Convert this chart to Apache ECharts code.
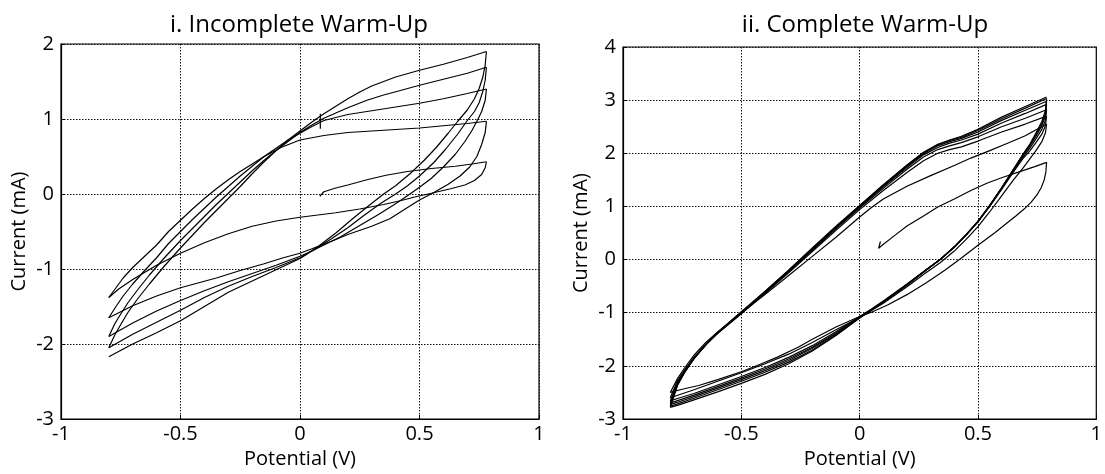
<!DOCTYPE html>
<html><head><meta charset="utf-8">
<script src="https://cdn.jsdelivr.net/npm/echarts/dist/echarts.min.js"></script>
<style>html,body{margin:0;padding:0;background:#fff}#c{width:1105px;height:474px}</style>
</head><body><div id="c"></div>
<script>
// ---------- tick values ----------
const xTickMin = -1, xTickMax = 1, xTickStep = 0.5;
const leftYMin = -3, leftYMax = 2;
const rightYMin = -3, rightYMax = 4;
const titles = ['i. Incomplete Warm-Up', 'ii. Complete Warm-Up'];
const xName = 'Potential (V)';
const yName = 'Current (mA)';

// ---------- left panel: incomplete warm-up (potential V, current mA) ----------
const leftInit = [[0.083,-0.03],[0.1,0.03],[0.15,0.08],[0.2,0.12],[0.28,0.19],[0.36,0.25],[0.45,0.3],[0.55,0.34],[0.65,0.37],[0.72,0.4],[0.78,0.43]];
const leftMark = [[0.085,1.07],[0.085,0.87]];
const leftCa1 = [[0.78,0.43],[0.775,0.35],[0.76,0.26],[0.73,0.18],[0.69,0.12],[0.63,0.07],[0.55,0.01],[0.48,-0.04],[0.42,-0.09],[0.35,-0.14],[0.25,-0.2],[0.15,-0.25],[0.05,-0.29],[0,-0.31],[-0.1,-0.36],[-0.2,-0.43],[-0.3,-0.53],[-0.4,-0.65],[-0.5,-0.79],[-0.6,-0.95],[-0.7,-1.14],[-0.76,-1.27],[-0.8,-1.38]];
const leftAn2 = [[-0.8,-1.38],[-0.77,-1.25],[-0.74,-1.12],[-0.7,-0.98],[-0.65,-0.83],[-0.6,-0.68],[-0.55,-0.5],[-0.5,-0.35],[-0.45,-0.2],[-0.4,-0.06],[-0.35,0.07],[-0.3,0.19],[-0.25,0.3],[-0.2,0.4],[-0.15,0.5],[-0.08,0.62],[0,0.72],[0.1,0.78],[0.2,0.82],[0.3,0.84],[0.4,0.86],[0.5,0.88],[0.6,0.91],[0.7,0.94],[0.78,0.97]];
const leftCa2 = [[0.78,0.97],[0.775,0.82],[0.76,0.66],[0.74,0.5],[0.71,0.36],[0.67,0.24],[0.62,0.13],[0.56,0.02],[0.5,-0.08],[0.44,-0.2],[0.376,-0.33],[0.3,-0.43],[0.2,-0.54],[0.14,-0.62],[0.05,-0.73],[0,-0.79],[-0.07,-0.85],[-0.15,-0.93],[-0.25,-1.02],[-0.35,-1.12],[-0.5,-1.25],[-0.6,-1.36],[-0.7,-1.49],[-0.8,-1.65]];
const leftAn3 = [[-0.8,-1.65],[-0.77,-1.5],[-0.74,-1.36],[-0.7,-1.2],[-0.65,-1.02],[-0.6,-0.85],[-0.55,-0.66],[-0.5,-0.5],[-0.45,-0.34],[-0.4,-0.19],[-0.35,-0.04],[-0.3,0.1],[-0.25,0.24],[-0.2,0.37],[-0.15,0.5],[-0.1,0.61],[-0.05,0.72],[0,0.81],[0.05,0.9],[0.1,0.98],[0.2,1.06],[0.3,1.11],[0.4,1.16],[0.5,1.21],[0.6,1.27],[0.7,1.34],[0.78,1.40]];
const leftCa3 = [[0.78,1.40],[0.775,1.25],[0.76,1.1],[0.745,1.0],[0.72,0.85],[0.69,0.7],[0.65,0.53],[0.6,0.36],[0.55,0.21],[0.5,0.09],[0.46,0.0],[0.4,-0.13],[0.33,-0.27],[0.25,-0.42],[0.17,-0.57],[0.1,-0.68],[0.05,-0.76],[0,-0.83],[-0.1,-0.95],[-0.2,-1.06],[-0.3,-1.17],[-0.4,-1.29],[-0.5,-1.42],[-0.6,-1.56],[-0.7,-1.72],[-0.8,-1.90]];
const leftAn4 = [[-0.8,-1.9],[-0.775,-1.73],[-0.75,-1.6],[-0.72,-1.45],[-0.68,-1.28],[-0.63,-1.08],[-0.57,-0.86],[-0.5,-0.62],[-0.45,-0.46],[-0.4,-0.3],[-0.35,-0.14],[-0.3,0.01],[-0.25,0.16],[-0.2,0.31],[-0.15,0.45],[-0.1,0.58],[-0.05,0.7],[0,0.82],[0.05,0.92],[0.1,1.01],[0.15,1.08],[0.2,1.15],[0.28,1.25],[0.35,1.32],[0.42,1.38],[0.5,1.45],[0.6,1.53],[0.7,1.61],[0.78,1.69]];
const leftCa4 = [[0.78,1.69],[0.775,1.52],[0.765,1.37],[0.75,1.22],[0.73,1.1],[0.7,0.98],[0.66,0.8],[0.61,0.6],[0.56,0.42],[0.5,0.24],[0.45,0.11],[0.4,0.0],[0.34,-0.12],[0.27,-0.28],[0.2,-0.45],[0.13,-0.6],[0.06,-0.74],[0,-0.85],[-0.1,-0.98],[-0.2,-1.1],[-0.3,-1.23],[-0.4,-1.38],[-0.5,-1.55],[-0.6,-1.71],[-0.7,-1.87],[-0.8,-2.05]];
const leftAn5 = [[-0.8,-2.05],[-0.775,-1.88],[-0.75,-1.74],[-0.72,-1.58],[-0.68,-1.4],[-0.63,-1.2],[-0.57,-0.97],[-0.5,-0.72],[-0.45,-0.55],[-0.4,-0.38],[-0.35,-0.22],[-0.3,-0.06],[-0.25,0.1],[-0.2,0.27],[-0.15,0.43],[-0.1,0.58],[-0.05,0.72],[0,0.84],[0.05,0.96],[0.1,1.07],[0.15,1.17],[0.2,1.27],[0.25,1.36],[0.3,1.44],[0.35,1.5],[0.4,1.56],[0.5,1.65],[0.6,1.73],[0.7,1.82],[0.78,1.90]];
const leftCa5 = [[0.78,1.90],[0.775,1.72],[0.765,1.56],[0.75,1.41],[0.73,1.27],[0.7,1.12],[0.66,0.97],[0.62,0.81],[0.57,0.62],[0.52,0.45],[0.46,0.27],[0.4,0.11],[0.35,0.0],[0.29,-0.15],[0.22,-0.33],[0.15,-0.52],[0.08,-0.69],[0.03,-0.8],[0,-0.86],[-0.1,-1.01],[-0.2,-1.16],[-0.3,-1.31],[-0.4,-1.5],[-0.5,-1.69],[-0.6,-1.85],[-0.7,-2.0],[-0.8,-2.17]];

// ---------- right panel: complete warm-up ----------
const rightInit = [[0.088,0.34],[0.08,0.21],[0.095,0.27],[0.15,0.46],[0.2,0.63],[0.27,0.82],[0.33,0.99],[0.4,1.14],[0.47,1.3],[0.54,1.44],[0.6,1.54],[0.68,1.66],[0.74,1.75],[0.79,1.83]];
const rightCa1 = [[0.79,1.83],[0.787,1.65],[0.78,1.5],[0.768,1.36],[0.75,1.22],[0.725,1.08],[0.695,0.95],[0.66,0.82],[0.62,0.68],[0.57,0.5],[0.5,0.27],[0.43,0.03],[0.36,-0.2],[0.28,-0.44],[0.2,-0.66],[0.12,-0.85],[0.05,-0.99],[0,-1.07],[-0.1,-1.27],[-0.2,-1.5],[-0.26,-1.65],[-0.35,-1.84],[-0.42,-1.97],[-0.5,-2.11],[-0.6,-2.26],[-0.68,-2.37],[-0.75,-2.44],[-0.8,-2.5]];
const rightAn2 = [[-0.8,-2.5],[-0.77,-2.24],[-0.74,-2.04],[-0.7,-1.8],[-0.65,-1.56],[-0.6,-1.36],[-0.5,-1.0],[-0.4,-0.66],[-0.3,-0.3],[-0.2,0.06],[-0.1,0.42],[0,0.8],[0.05,0.98],[0.1,1.14],[0.2,1.38],[0.3,1.58],[0.4,1.77],[0.47,1.91],[0.55,2.05],[0.62,2.18],[0.7,2.33],[0.79,2.55]];
const rightCa2 = [[0.79,2.55],[0.785,2.38],[0.77,2.22],[0.745,2.05],[0.72,1.9],[0.69,1.72],[0.65,1.5],[0.6,1.2],[0.55,0.9],[0.5,0.62],[0.45,0.38],[0.4,0.16],[0.34,-0.06],[0.28,-0.25],[0.2,-0.51],[0.1,-0.82],[0.05,-0.96],[0,-1.09],[-0.1,-1.32],[-0.2,-1.56],[-0.3,-1.78],[-0.4,-1.96],[-0.5,-2.13],[-0.6,-2.29],[-0.7,-2.45],[-0.8,-2.60]];
const rightAn3 = [[-0.8,-2.60],[-0.77,-2.28],[-0.74,-2.08],[-0.7,-1.84],[-0.65,-1.6],[-0.6,-1.39],[-0.5,-1.02],[-0.4,-0.64],[-0.3,-0.25],[-0.2,0.15],[-0.1,0.55],[0,0.94],[0.1,1.3],[0.2,1.64],[0.27,1.86],[0.33,2.0],[0.38,2.07],[0.43,2.12],[0.5,2.23],[0.6,2.4],[0.7,2.55],[0.79,2.70]];
const rightCa3 = [[0.79,2.70],[0.785,2.52],[0.77,2.36],[0.745,2.2],[0.72,2.05],[0.69,1.9],[0.65,1.65],[0.6,1.32],[0.55,1.0],[0.5,0.71],[0.45,0.46],[0.4,0.23],[0.34,0.0],[0.28,-0.19],[0.2,-0.46],[0.1,-0.78],[0.05,-0.93],[0,-1.07],[-0.1,-1.36],[-0.2,-1.62],[-0.3,-1.84],[-0.4,-2.03],[-0.5,-2.2],[-0.6,-2.36],[-0.7,-2.52],[-0.76,-2.6],[-0.8,-2.66]];
const rightAn4 = [[-0.8,-2.66],[-0.77,-2.31],[-0.74,-2.1],[-0.7,-1.85],[-0.65,-1.6],[-0.6,-1.38],[-0.5,-1.01],[-0.4,-0.63],[-0.3,-0.23],[-0.2,0.17],[-0.1,0.58],[0,0.97],[0.1,1.34],[0.2,1.7],[0.27,1.93],[0.33,2.07],[0.38,2.14],[0.43,2.2],[0.5,2.31],[0.6,2.5],[0.7,2.66],[0.79,2.82]];
const rightCa4 = [[0.79,2.82],[0.785,2.62],[0.77,2.45],[0.745,2.27],[0.72,2.1],[0.69,1.93],[0.65,1.67],[0.6,1.33],[0.55,1.01],[0.5,0.71],[0.45,0.46],[0.4,0.23],[0.34,0.0],[0.28,-0.2],[0.2,-0.47],[0.1,-0.79],[0.05,-0.94],[0,-1.08],[-0.1,-1.38],[-0.2,-1.65],[-0.3,-1.87],[-0.4,-2.06],[-0.5,-2.23],[-0.6,-2.39],[-0.7,-2.55],[-0.76,-2.64],[-0.8,-2.70]];
const rightAn5 = [[-0.8,-2.70],[-0.77,-2.33],[-0.74,-2.11],[-0.7,-1.86],[-0.65,-1.61],[-0.6,-1.38],[-0.5,-1.0],[-0.4,-0.62],[-0.3,-0.22],[-0.2,0.19],[-0.1,0.6],[0,0.99],[0.1,1.37],[0.2,1.73],[0.27,1.97],[0.33,2.11],[0.38,2.19],[0.43,2.25],[0.5,2.36],[0.6,2.57],[0.7,2.75],[0.79,2.92]];
const rightCa5 = [[0.79,2.92],[0.785,2.7],[0.77,2.52],[0.745,2.32],[0.72,2.14],[0.69,1.96],[0.65,1.69],[0.6,1.34],[0.55,1.02],[0.5,0.72],[0.45,0.47],[0.4,0.24],[0.34,0.0],[0.28,-0.2],[0.2,-0.48],[0.1,-0.8],[0.05,-0.95],[0,-1.09],[-0.1,-1.4],[-0.2,-1.67],[-0.3,-1.9],[-0.4,-2.09],[-0.5,-2.26],[-0.6,-2.42],[-0.7,-2.58],[-0.76,-2.67],[-0.8,-2.73]];
const rightAn6 = [[-0.8,-2.73],[-0.77,-2.35],[-0.74,-2.12],[-0.7,-1.86],[-0.65,-1.6],[-0.6,-1.37],[-0.5,-0.99],[-0.4,-0.61],[-0.3,-0.21],[-0.2,0.2],[-0.1,0.61],[0,1.0],[0.1,1.38],[0.2,1.75],[0.27,1.99],[0.33,2.14],[0.38,2.22],[0.43,2.28],[0.5,2.4],[0.6,2.62],[0.7,2.81],[0.79,2.98]];
const rightCa6 = [[0.79,2.98],[0.785,2.75],[0.77,2.56],[0.745,2.35],[0.72,2.16],[0.69,1.97],[0.65,1.7],[0.6,1.35],[0.55,1.02],[0.5,0.72],[0.45,0.47],[0.4,0.24],[0.34,0.0],[0.28,-0.2],[0.2,-0.48],[0.1,-0.8],[0.05,-0.95],[0,-1.1],[-0.1,-1.42],[-0.2,-1.7],[-0.3,-1.93],[-0.4,-2.12],[-0.5,-2.29],[-0.6,-2.45],[-0.7,-2.61],[-0.76,-2.7],[-0.8,-2.76]];
const rightAn7 = [[-0.8,-2.76],[-0.77,-2.36],[-0.74,-2.12],[-0.7,-1.86],[-0.65,-1.6],[-0.6,-1.37],[-0.5,-0.99],[-0.4,-0.6],[-0.3,-0.2],[-0.2,0.21],[-0.1,0.62],[0,1.01],[0.1,1.4],[0.2,1.77],[0.27,2.01],[0.33,2.16],[0.38,2.24],[0.43,2.3],[0.5,2.43],[0.6,2.65],[0.7,2.85],[0.79,3.03]];
const rightCa7 = [[0.79,3.03],[0.785,2.8],[0.77,2.6],[0.745,2.38],[0.72,2.18],[0.69,1.98],[0.65,1.7],[0.6,1.35],[0.55,1.02],[0.5,0.72],[0.45,0.47],[0.4,0.24],[0.34,0.0],[0.28,-0.2],[0.2,-0.48],[0.1,-0.8],[0.05,-0.95],[0,-1.1],[-0.1,-1.43],[-0.2,-1.72],[-0.3,-1.96],[-0.4,-2.16],[-0.5,-2.33],[-0.6,-2.49],[-0.7,-2.64],[-0.76,-2.73],[-0.8,-2.78]];
const rightAn8 = [[-0.8,-2.78],[-0.77,-2.37],[-0.74,-2.13],[-0.7,-1.87],[-0.65,-1.6],[-0.6,-1.37],[-0.5,-0.98],[-0.4,-0.6],[-0.3,-0.2],[-0.2,0.22],[-0.1,0.63],[0,1.02],[0.1,1.41],[0.2,1.78],[0.27,2.02],[0.33,2.17],[0.38,2.25],[0.43,2.32],[0.5,2.45],[0.6,2.68],[0.7,2.88],[0.79,3.06]];

const leftSegments = [leftInit, leftCa1, leftAn2, leftCa2, leftAn3, leftCa3, leftAn4, leftCa4, leftAn5, leftCa5, leftMark];
const rightSegments = [rightInit, rightCa1, rightAn2, rightCa2, rightAn3, rightCa3, rightAn4, rightCa4, rightAn5, rightCa5, rightAn6, rightCa6, rightAn7, rightCa7, rightAn8];

const FONT = "'Open Sans', 'Noto Sans', sans-serif";

function xAxisFor(g) {
  return {
    gridIndex: g, type: 'value', min: xTickMin, max: xTickMax, interval: xTickStep,
    axisLine: {show: true, onZero: false, lineStyle: {color: '#000', width: 1.2}},
    axisTick: {show: true, inside: true, length: 4, lineStyle: {color: '#000'}},
    axisLabel: {color: '#000', fontSize: 20, margin: 5, fontFamily: FONT},
    splitLine: {show: true, lineStyle: {color: '#111', type: [1.5, 1.5], width: 1}},
    name: xName, nameLocation: 'middle', nameGap: 30,
    nameTextStyle: {color: '#000', fontSize: 20, fontFamily: FONT}
  };
}
function yAxisFor(g, mn, mx) {
  return {
    gridIndex: g, type: 'value', min: mn, max: mx, interval: 1,
    axisLine: {show: true, onZero: false, lineStyle: {color: '#000', width: 1.2}},
    axisTick: {show: true, inside: true, length: 4, lineStyle: {color: '#000'}},
    axisLabel: {color: '#000', fontSize: 20, margin: 7, fontFamily: FONT},
    splitLine: {show: true, lineStyle: {color: '#111', type: [1.5, 1.5], width: 1}},
    name: yName, nameLocation: 'middle', nameGap: 32, nameRotate: 90,
    nameTextStyle: {color: '#000', fontSize: 20, fontFamily: FONT}
  };
}
function seg(d, g) {
  return {type: 'line', data: d, xAxisIndex: g, yAxisIndex: g, showSymbol: false, symbol: 'none',
    silent: true, lineStyle: {color: '#000', width: 1.2}, z: 5};
}

const chart = echarts.init(document.getElementById('c'), null, {renderer: 'canvas'});
chart.setOption({
  animation: false,
  backgroundColor: '#fff',
  title: [
    {text: titles[0], left: 294, top: 8, textAlign: 'center', textStyle: {color: '#000', fontSize: 24, fontWeight: 'normal', fontFamily: FONT}},
    {text: titles[1], left: 860, top: 8, textAlign: 'center', textStyle: {color: '#000', fontSize: 24, fontWeight: 'normal', fontFamily: FONT}}
  ],
  grid: [
    {left: 61, top: 44, width: 478, height: 377, show: true, borderColor: '#000', borderWidth: 1.2, containLabel: false},
    {left: 623, top: 47, width: 478, height: 376, show: true, borderColor: '#000', borderWidth: 1.2, containLabel: false}
  ],
  xAxis: [xAxisFor(0), xAxisFor(1)],
  yAxis: [yAxisFor(0, leftYMin, leftYMax), yAxisFor(1, rightYMin, rightYMax)],
  series: leftSegments.map(d => seg(d, 0)).concat(rightSegments.map(d => seg(d, 1)))
});
</script>
</body></html>
